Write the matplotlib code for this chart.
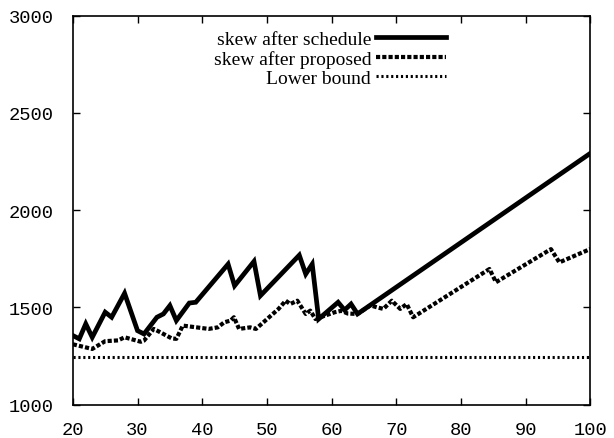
import matplotlib.pyplot as plt

# skew after schedule
sched_x = [20, 21, 22, 23, 25, 26, 28, 30, 31, 33, 34, 35, 36, 38, 39, 44, 45,
           48, 49, 55, 56, 57, 58, 61, 62, 63, 64, 100]
sched_y = [1355, 1338, 1415, 1346, 1475, 1449, 1572, 1380, 1363, 1449, 1466,
           1509, 1432, 1522, 1526, 1722, 1611, 1736, 1560, 1768, 1671, 1722,
           1440, 1526, 1486, 1517, 1466, 2292]

# skew after proposed
prop_x = [20, 23, 25, 27, 28, 30.5, 31, 32.5, 33.5, 35.3, 36, 37, 41, 42.4,
          43.4, 44.4, 44.9, 45.7, 47.4, 48.3, 51.8, 52.9, 53.6, 54.7, 56, 56.7,
          57.5, 60.5, 61.5, 62.5, 64, 66, 67, 68, 69.3, 70.6, 71.6, 72.6, 84.4,
          85.4, 93.9, 95.2, 100]
prop_y = [1310, 1286, 1326, 1330, 1346, 1323, 1329, 1389, 1372, 1340, 1338,
          1406, 1389, 1397, 1423, 1432, 1449, 1389, 1397, 1389, 1492, 1534,
          1517, 1534, 1466, 1483, 1440, 1475, 1482, 1468, 1466, 1510, 1500,
          1492, 1534, 1492, 1517, 1449, 1697, 1629, 1799, 1731, 1800]

# lower bound
lb_x = [20, 100]
lb_y = [1243, 1243]

plt.rcParams['font.family'] = 'Liberation Mono'

fig = plt.figure(figsize=(6.14, 4.39), dpi=100)
ax = fig.add_axes([0.1186, 0.0761, 0.843, 0.8863])

ax.plot(sched_x, sched_y, color='black', lw=3.4, solid_joinstyle='miter',
        label='skew after schedule')
ax.plot(prop_x, prop_y, color='black', lw=3.0, linestyle=(0, (1.0, 0.5)),
        dash_capstyle='butt', label='skew after proposed')
ax.plot(lb_x, lb_y, color='black', lw=2.2, linestyle=(0, (0.7, 0.9)),
        dash_capstyle='butt', label='Lower bound')

ax.set_xlim(20, 100)
ax.set_ylim(1000, 3000)
ax.set_xticks(range(20, 101, 10))
ax.set_yticks(range(1000, 3001, 500))
ax.tick_params(direction='in', length=5, width=1, top=True, right=True,
               labelsize=13.5, colors='black')
ax.tick_params(axis='x', pad=12)
ax.tick_params(axis='y', pad=14)
for s in ax.spines.values():
    s.set_linewidth(1.2)

leg = ax.legend(loc='upper right', bbox_to_anchor=(0.721, 0.962),
                frameon=False, markerfirst=False, handlelength=3.6,
                handletextpad=0.25, labelspacing=0.1, borderpad=0,
                borderaxespad=0,
                prop={'family': 'Liberation Serif', 'size': 14})
for t in leg.get_texts():
    t.set_ha('right')

fig.savefig('out.png', dpi=100)
